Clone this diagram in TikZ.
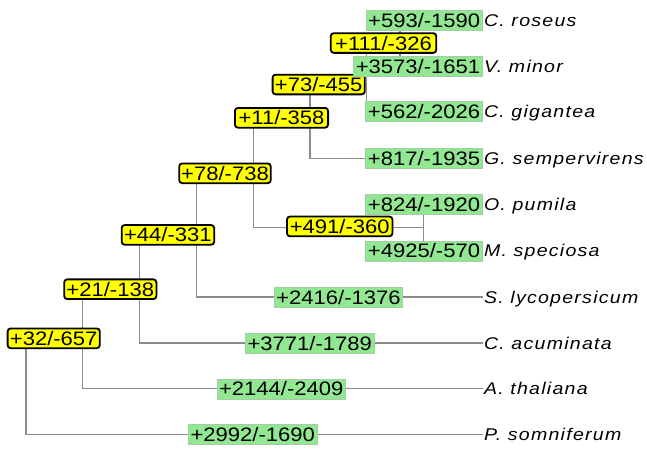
\documentclass[tikz,border=0pt]{standalone}
\usepackage{fontspec}
\newfontfamily\numfont[FakeStretch=1.13]{Liberation Sans}
\newfontfamily\spfont[FakeStretch=1.15,LetterSpace=7.4]{Liberation Sans}
\definecolor{linegray}{RGB}{140,140,140}
\definecolor{leafgreen}{RGB}{146,232,146}
\definecolor{leafborder}{RGB}{165,205,165}
\definecolor{gainyellow}{RGB}{255,255,0}
\begin{document}
\begin{tikzpicture}[x=1pt,y=-1pt,
  branch/.style={draw=linegray,line width=1.2pt},
  gain/.style={draw=black,line width=1.8pt,fill=gainyellow,rounded corners=3pt,
    inner sep=0pt,minimum height=19.7pt,text height=14pt,text depth=0pt,
    font=\numfont\fontsize{19.5}{21}\selectfont},
  leafgain/.style={draw=leafborder,line width=0.6pt,fill=leafgreen,
    inner sep=0pt,minimum height=20pt,text height=14pt,text depth=0pt,
    font=\numfont\fontsize{19.5}{21}\selectfont},
  species/.style={anchor=base west,inner sep=0pt,xshift=0.8pt,yshift=-6.1pt,
    font=\spfont\itshape\fontsize{17}{19}\selectfont}]
\useasboundingbox (0,0) rectangle (647,448);

% tree nodes
\coordinate (nR) at (26,386);
\coordinate (nA) at (82.7,338.3);
\coordinate (nB) at (139.3,289.2);
\coordinate (nC) at (196.7,234.9);
\coordinate (nD) at (253.3,173.3);
\coordinate (nE) at (423.3,227.5);
\coordinate (nF) at (310,117.8);
\coordinate (nG) at (366.5,84.5);
\coordinate (nH) at (400,43);
% leaf ends
\coordinate (t0) at (483,20.7);
\coordinate (t1) at (483,66.3);
\coordinate (t2) at (483,111);
\coordinate (t3) at (483,158.5);
\coordinate (t4) at (483,204.5);
\coordinate (t5) at (483,250.8);
\coordinate (t6) at (483,297);
\coordinate (t7) at (483,343);
\coordinate (t8) at (483,388.8);
\coordinate (t9) at (483,434.2);

% branches
\draw[branch] (nR) |- (nA);
\draw[branch] (nR) |- (t9);
\draw[branch] (nA) |- (nB);
\draw[branch] (nA) |- (t8);
\draw[branch] (nB) |- (nC);
\draw[branch] (nB) |- (t7);
\draw[branch] (nC) |- (nD);
\draw[branch] (nC) |- (t6);
\draw[branch] (nD) |- (nF);
\draw[branch] (nD) |- (nE);
\draw[branch] (nE) |- (t4);
\draw[branch] (nE) |- (t5);
\draw[branch] (nF) |- (nG);
\draw[branch] (nF) |- (t3);
\draw[branch] (nG) |- (nH);
\draw[branch] (nG) |- (t2);
\draw[branch] (nH) |- (t0);
\draw[branch] (nH) |- (t1);

% internal branch labels
\node[gain,minimum width=92.2pt] (y1) at (53.7,338.3) {+32/-657};
\node[gain,minimum width=92.2pt] (y2) at (110.3,289.2) {+21/-138};
\node[gain,minimum width=92.5pt] (y3) at (167.9,234.9) {+44/-331};
\node[gain,minimum width=91.6pt] (y4) at (225,173.3) {+78/-738};
\node[gain,minimum width=93.2pt] (y5) at (281.5,117.8) {+11/-358};
\node[gain,minimum width=92.2pt] (y6) at (318.7,84.5) {+73/-455};
\node[gain,minimum width=105.5pt] (y7) at (339.7,226.4) {+491/-360};
\node[gain,minimum width=105.5pt] (y8) at (383.5,43) {+111/-326};

% terminal branch labels
\node[leafgain,minimum width=116.4pt] (g0) at (424.2,20.7) {+593/-1590};
\node[leafgain,minimum width=129.4pt] (g1) at (418,66.3) {+3573/-1651};
\node[leafgain,minimum width=117.4pt] (g2) at (424,111) {+562/-2026};
\node[leafgain,minimum width=117.4pt] (g3) at (424,158.5) {+817/-1935};
\node[leafgain,minimum width=117.4pt] (g4) at (424,204.5) {+824/-1920};
\node[leafgain,minimum width=117.4pt] (g5) at (424,250.8) {+4925/-570};
\node[leafgain,minimum width=128.4pt] (g6) at (338.5,297) {+2416/-1376};
\node[leafgain,minimum width=128.4pt] (g7) at (309.7,343) {+3771/-1789};
\node[leafgain,minimum width=128.4pt] (g8) at (281.2,388.8) {+2144/-2409};
\node[leafgain,minimum width=128.4pt] (g9) at (252.8,434.2) {+2992/-1690};

% species
\node[species] (s0) at (t0) {C. roseus};
\node[species] (s1) at (t1) {V. minor};
\node[species] (s2) at (t2) {C. gigantea};
\node[species] (s3) at (t3) {G. sempervirens};
\node[species] (s4) at (t4) {O. pumila};
\node[species] (s5) at (t5) {M. speciosa};
\node[species] (s6) at (t6) {S. lycopersicum};
\node[species] (s7) at (t7) {C. acuminata};
\node[species] (s8) at (t8) {A. thaliana};
\node[species] (s9) at (t9) {P. somniferum};
\end{tikzpicture}
\end{document}
